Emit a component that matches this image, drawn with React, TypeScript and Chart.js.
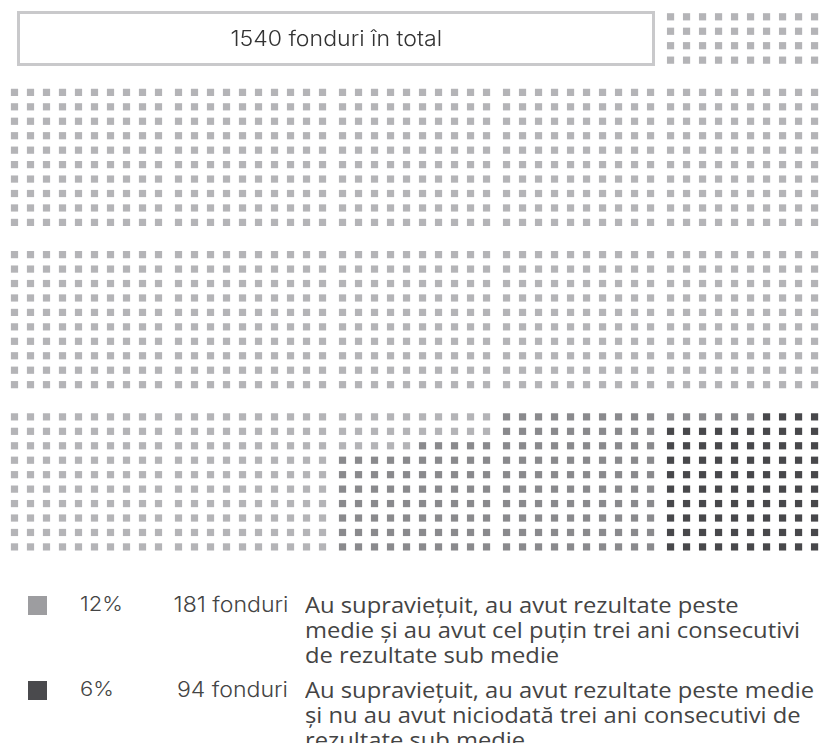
import React, { useEffect, useRef } from "react";
import { Chart, registerables } from "chart.js";

Chart.register(...registerables);

// ---- data ----
const categories = [
  "Celelalte fonduri",
  "Au supraviețuit, au avut rezultate peste medie și au avut cel puțin trei ani consecutivi de rezultate sub medie",
  "Au supraviețuit, au avut rezultate peste medie și nu au avut niciodată trei ani consecutivi de rezultate sub medie",
];
const counts = [1265, 181, 94];
const percents = ["", "12%", "6%"];
const fundLabels = ["", "181 fonduri", "94 fonduri"];
const descLines = [
  [],
  ["Au supraviețuit, au avut rezultate peste", "medie și au avut cel puțin trei ani consecutivi", "de rezultate sub medie"],
  ["Au supraviețuit, au avut rezultate peste medie", "și nu au avut niciodată trei ani consecutivi de", "rezultate sub medie"],
];
const colors = ["#b4b4b7", "#8a8a8d", "#48484b"];
const legendColors = ["#b4b4b7", "#9d9da0", "#4a4a4d"];
const totalLabel = "1540 fonduri în total";

// waffle layout (grid units)
const BLOCK_SIZE = 10;
const BLOCK_COLS = 5;
const BLOCK_STEP_X = 10.25;
const BLOCK_STEP_Y = 11.23;

function buildCells(total: number) {
  const cells: { x: number; y: number }[] = [];
  const full = Math.floor(total / (BLOCK_SIZE * BLOCK_SIZE));
  const rem = total - full * BLOCK_SIZE * BLOCK_SIZE;
  const remRows = Math.ceil(rem / BLOCK_SIZE);
  let placed = 0;
  for (let r = BLOCK_SIZE - remRows; r < BLOCK_SIZE; r++) {
    for (let c = 0; c < BLOCK_SIZE && placed < rem; c++) {
      cells.push({ x: (BLOCK_COLS - 1) * BLOCK_STEP_X + c, y: r });
      placed++;
    }
  }
  for (let b = 0; b < full; b++) {
    const br = 1 + Math.floor(b / BLOCK_COLS);
    const bc = b % BLOCK_COLS;
    for (let r = 0; r < BLOCK_SIZE; r++) {
      for (let c = 0; c < BLOCK_SIZE; c++) {
        cells.push({ x: bc * BLOCK_STEP_X + c, y: br * BLOCK_STEP_Y + r });
      }
    }
  }
  return cells;
}

export default function App() {
  const ref = useRef<HTMLCanvasElement | null>(null);
  useEffect(() => {
    document.body.style.margin = "0";
    const total = counts.reduce((a, b) => a + b, 0);
    const cells = buildCells(total);
    let idx = 0;
    const datasets = counts.map((n, i) => {
      const pts = cells.slice(idx, idx + n);
      idx += n;
      return {
        label: categories[i],
        data: pts,
        pointStyle: "rect" as const,
        pointRadius: 5.1,
        pointHoverRadius: 5.1,
        pointBorderWidth: 0,
        pointBackgroundColor: colors[i],
        backgroundColor: colors[i],
        borderColor: colors[i],
        showLine: false,
        clip: false as any,
      };
    });
    const chart = new Chart(ref.current!, {
      type: "scatter",
      data: { datasets },
      options: {
        animation: false,
        responsive: false,
        events: [],
        layout: { padding: 0, autoPadding: false },
        plugins: { legend: { display: false }, tooltip: { enabled: false } },
        scales: {
          x: { type: "linear", display: false, min: -0.906, max: 50.34 },
          y: { type: "linear", display: false, reverse: true, min: 4.837, max: 44.98 },
        },
      },
    });
    return () => chart.destroy();
  }, []);

  const numFont = "Inter, 'Noto Sans', sans-serif";
  const descFont = "'Open Sans', 'Noto Sans', sans-serif";
  const stretch = 1.1;

  return (
    <div style={{ position: "relative", width: 820, height: 743, background: "#fff", overflow: "hidden" }}>
      <canvas ref={ref} width={820} height={580} style={{ position: "absolute", left: 0, top: 0 }} />
      <div
        style={{
          position: "absolute",
          left: 17,
          top: 11,
          width: 638,
          height: 55,
          boxSizing: "border-box",
          border: "3px solid #c9c9cb",
          display: "flex",
          alignItems: "center",
          justifyContent: "center",
        }}
      >
        <span
          style={{
            display: "inline-block",
            fontFamily: numFont,
            fontWeight: 300,
            fontSize: 21,
            color: "#333",
            transform: `scaleX(${stretch})`,
            transformOrigin: "center",
          }}
        >
          {totalLabel}
        </span>
      </div>
      {[1, 2].map((i, k) => {
        const top = k === 0 ? 592 : 677;
        return (
          <div key={i}>
            <div style={{ position: "absolute", left: 28, top: top + 4, width: 19, height: 19, background: legendColors[i] }} />
            <div
              style={{
                position: "absolute",
                left: 80,
                top: top,
                fontFamily: numFont,
                fontWeight: 300,
                fontSize: 20,
                lineHeight: "25px",
                color: "#444",
                whiteSpace: "nowrap",
                transform: `scaleX(${stretch})`,
                transformOrigin: "left",
              }}
            >
              {percents[i]}
            </div>
            <div
              style={{
                position: "absolute",
                right: 820 - 288,
                top: top,
                fontFamily: numFont,
                fontWeight: 300,
                fontSize: 21,
                lineHeight: "25px",
                color: "#444",
                whiteSpace: "nowrap",
                transform: `scaleX(${stretch})`,
                transformOrigin: "right",
              }}
            >
              {fundLabels[i]}
            </div>
            <div
              style={{
                position: "absolute",
                left: 305,
                top: top,
                fontFamily: descFont,
                fontSize: 21.6,
                lineHeight: "25px",
                color: "#444",
                whiteSpace: "nowrap",
                transform: `scaleX(${stretch})`,
                transformOrigin: "left",
              }}
            >
              {descLines[i].map((l, j) => (
                <div key={j}>{l}</div>
              ))}
            </div>
          </div>
        );
      })}
    </div>
  );
}
